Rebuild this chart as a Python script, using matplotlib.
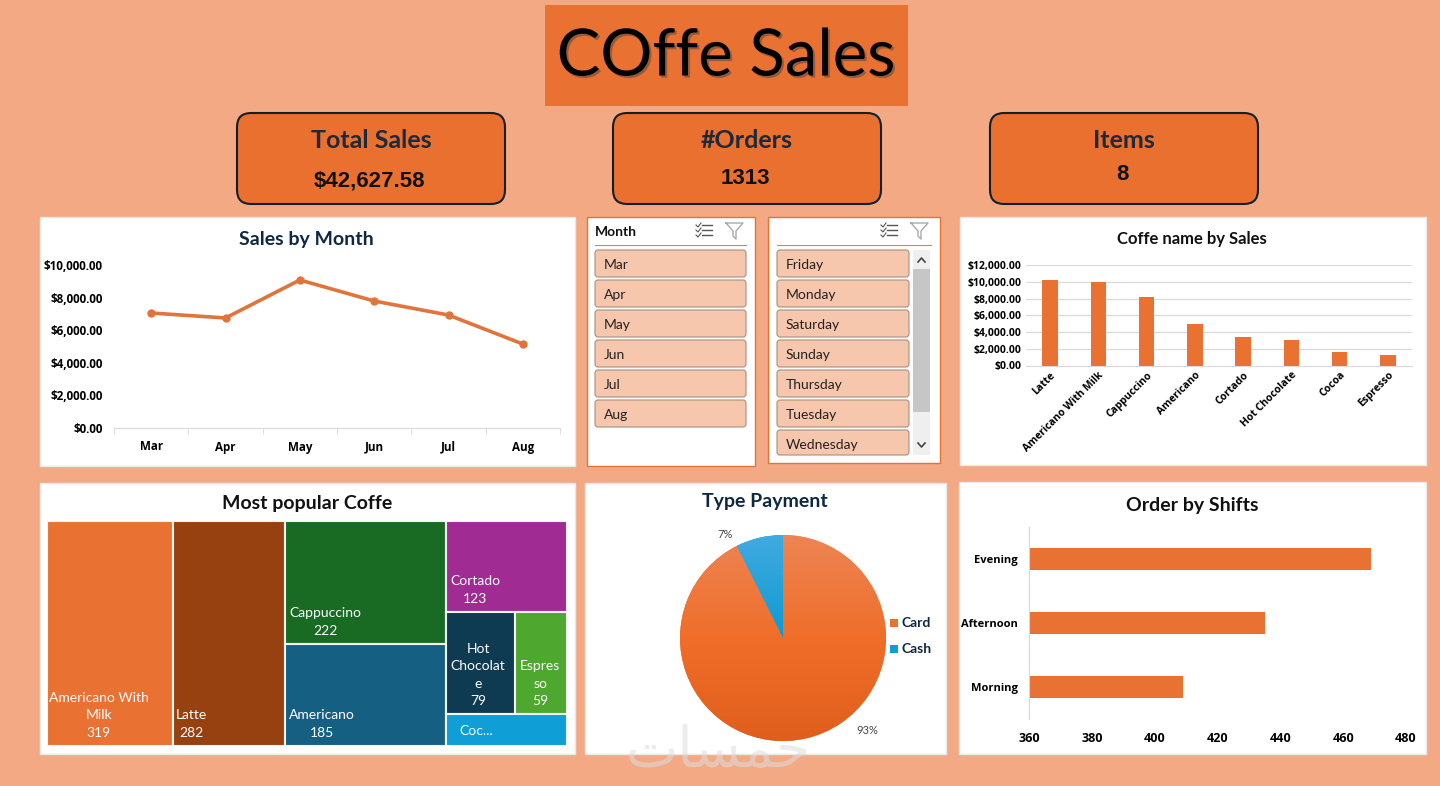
import numpy as np
import matplotlib
matplotlib.use("Agg")
import matplotlib.pyplot as plt
import matplotlib.patheffects as pe
from matplotlib.patches import Rectangle, FancyBboxPatch
from matplotlib.ticker import StrMethodFormatter

W, H = 1440, 786
BG = "#F2A984"
ORANGE = "#E97132"
NAVY = "#0E2841"
SLICER = "#F6C6AD"
HEAD = "Lato"
SMALL = "Open Sans"

months = ["Mar", "Apr", "May", "Jun", "Jul", "Aug"]
month_sales = [7055, 6750, 9080, 7790, 6930, 5150]

days = ["Friday", "Monday", "Saturday", "Sunday", "Thursday", "Tuesday", "Wednesday"]

coffee_names = ["Latte", "Americano With Milk", "Cappuccino", "Americano",
                "Cortado", "Hot Chocolate", "Cocoa", "Espresso"]
coffee_sales = [10200, 10000, 8200, 4950, 3350, 3000, 1600, 1300]

tree_labels = ["Americano With\nMilk\n319", "Latte\n282", "Cappuccino\n222", "Americano\n185",
               "Cortado\n123", "Hot\nChocolat\ne\n79", "Espres\nso\n59", "Coc..."]
tree_counts = [319, 282, 222, 185, 123, 79, 59, 44]
tree_colors = ["#E97132", "#974010", "#196B24", "#156082", "#A02B93", "#0F3B52", "#4EA72E", "#0F9ED5"]

pay_labels = ["Card", "Cash"]
pay_share = [92.6, 7.4]

shifts = ["Morning", "Afternoon", "Evening"]
shift_orders = [409, 435, 469]

kpi_titles = ["Total Sales", "#Orders", "Items"]
kpi_values = ["$42,627.58", "1313", "8"]

plt.rcParams["font.family"] = ["Lato", "DejaVu Sans"]

fig = plt.figure(figsize=(W / 100, H / 100), dpi=100, facecolor=BG)
bg = fig.add_axes([0, 0, 1, 1])
bg.set_xlim(0, W)
bg.set_ylim(H, 0)
bg.axis("off")


def sub_axes(x0, y0, x1, y1):
    # axes from pixel box, y measured from the top
    return fig.add_axes([x0 / W, 1 - y1 / H, (x1 - x0) / W, (y1 - y0) / H])


def panel(x0, y0, x1, y1, edge="#E8E8E8"):
    bg.add_patch(Rectangle((x0, y0), x1 - x0, y1 - y0, fc="white", ec=edge, lw=1))


def clean(ax):
    for s in ["top", "right", "left", "bottom"]:
        ax.spines[s].set_visible(False)
    ax.patch.set_alpha(0)


def bold_labels(labels, size):
    for lab in labels:
        lab.set_fontsize(size)
        lab.set_fontweight("bold")
        lab.set_family(SMALL)


# title and cards
bg.add_patch(Rectangle((545, 5), 363, 101, fc=ORANGE, ec="none"))
bg.text(726, 57, "COffe Sales", fontsize=47, ha="center", va="center", color="black", family=HEAD,
        path_effects=[pe.withSimplePatchShadow(offset=(1.5, -1.5), shadow_rgbFace="#444444", alpha=0.5)])

for x0, t, v, vy in zip([237, 613, 990], kpi_titles, kpi_values, [181, 179, 174]):
    bg.add_patch(FancyBboxPatch((x0 + 14, 127), 240, 63, boxstyle="round,pad=14,rounding_size=14",
                                fc="#EA7030", ec="#10202C", lw=1.5))
    bg.text(x0 + 134, 140, t, fontsize=18, fontweight="bold", ha="center", va="center", color="#1E2A38", family=HEAD)
    bg.text(x0 + 132, vy, v, fontsize=16, fontweight="bold", ha="center", va="center",
            color="#111111", family="Liberation Sans")

# panels
panel(40, 217, 575, 466)
panel(960, 217, 1426, 465)
panel(40, 483, 575, 754)
panel(585, 483, 946, 754)
panel(959, 482, 1426, 754)
panel(587, 217, 755, 466, edge=ORANGE)
panel(768, 217, 940, 463, edge=ORANGE)

# sales by month
bg.text(306, 240, "Sales by Month", fontsize=14, fontweight="bold", ha="center", va="center", color=NAVY)
ax = sub_axes(114, 265, 560, 428)
clean(ax)
ax.plot(range(6), month_sales, color="#E0743A", lw=2.6, marker="o", ms=5)
ax.set_xlim(-0.5, 5.5)
ax.set_ylim(0, 10000)
ax.set_yticks(range(0, 10001, 2000))
ax.yaxis.set_major_formatter(StrMethodFormatter("${x:,.2f}"))
ax.set_xticks(range(6), months)
ax.spines["bottom"].set_visible(True)
ax.spines["bottom"].set_color("#D9D9D9")
ax.tick_params(axis="y", length=0, pad=8)
ax.tick_params(axis="x", length=0, pad=9)
bold_labels(ax.get_xticklabels() + ax.get_yticklabels(), 8.4)
ax.set_xticks(np.arange(-0.5, 6), minor=True)
ax.tick_params(axis="x", which="minor", length=4, color="#D9D9D9")


# slicers
def slicer(x0, x1, items, rule_end):
    bg.plot([x0, rule_end], [245, 245], color="#C98A5E", lw=0.8)
    # select-all and clear-filter icons
    ix = rule_end - 50
    for k in range(3):
        bg.plot([ix + 6, ix + 16], [225 + k * 5] * 2, color="#555555", lw=1)
        bg.plot([ix, ix + 2, ix + 5], [225 + k * 5, 227 + k * 5, 223 + k * 5], color="#555555", lw=0.8)
    fx = rule_end - 20
    bg.plot([fx, fx + 17, fx + 10, fx + 10, fx + 7, fx + 7, fx], [223, 223, 231, 239, 236, 231, 223],
            color="#AAAAAA", lw=1)
    for i, name in enumerate(items):
        top = 250 + i * 30
        bottom = min(top + 27, 455)
        bg.add_patch(FancyBboxPatch((x0 + 2, top + 2), x1 - x0 - 4, bottom - top - 4,
                                    boxstyle="round,pad=2,rounding_size=3", fc=SLICER, ec="#A98E7E", lw=0.8))
        bg.text(x0 + 9, top + 15, name, fontsize=10, ha="left", va="center", color="#222222")


slicer(595, 746, months, 746)
bg.text(595, 232, "Month", fontsize=10, fontweight="bold", ha="left", va="center", color="#111111")
slicer(777, 909, days, 931)

# slicer scrollbar
bg.add_patch(Rectangle((913, 250), 17, 205, fc="#EFEFEF", ec="none"))
bg.add_patch(Rectangle((913, 269), 17, 143, fc="#C6C6C6", ec="none"))
bg.plot([918, 921.5, 925], [262, 258, 262], color="#444444", lw=1.2)
bg.plot([918, 921.5, 925], [443, 447, 443], color="#444444", lw=1.2)

# coffee by sales
bg.text(1192, 239, "Coffe name by Sales", fontsize=12, fontweight="bold", ha="center", va="center", color="#111111")
ax = sub_axes(1026, 265, 1412, 365.5)
clean(ax)
ax.bar(range(8), coffee_sales, width=0.32, color=ORANGE, zorder=2)
ax.set_xlim(-0.5, 7.5)
ax.set_ylim(0, 12000)
ax.set_yticks(range(0, 12001, 2000))
ax.yaxis.set_major_formatter(StrMethodFormatter("${x:,.2f}"))
ax.grid(axis="y", color="#D9D9D9", lw=0.8, zorder=0)
ax.set_axisbelow(True)
ax.spines["bottom"].set_visible(True)
ax.spines["bottom"].set_color("#D9D9D9")
ax.set_xticks(range(8), coffee_names, rotation=45, ha="right", rotation_mode="anchor")
ax.tick_params(axis="both", length=0, pad=3)
bold_labels(ax.get_xticklabels() + ax.get_yticklabels(), 7.5)

# treemap, slice and dice from the counts
bg.text(307, 503, "Most popular Coffe", fontsize=14, fontweight="bold", ha="center", va="center", color="#111111")
ax = sub_axes(47, 521, 567, 746)
ax.axis("off")
ax.set_ylim(1, 0)
ax.set_xlim(0, 1)
total = sum(tree_counts)
c = tree_counts
col_w = [c[0] / total, c[1] / total, (c[2] + c[3]) / total, sum(c[4:]) / total]
col_x = np.cumsum([0] + col_w)


def cell(i, x, y, w, h, tx, ty):
    ax.add_patch(Rectangle((x, y), w, h, fc=tree_colors[i], ec="#F4F4F4", lw=1.5))
    ax.text(x + tx * w, y + ty * h, tree_labels[i], color="white", fontsize=10, ha="center", va="bottom",
            linespacing=1.55, multialignment="center")


cell(0, col_x[0], 0, col_w[0], 1, 0.41, 0.967)
cell(1, col_x[1], 0, col_w[1], 1, 0.16, 0.967)
h2 = c[2] / (c[2] + c[3])
cell(2, col_x[2], 0, col_w[2], h2, 0.25, 0.945)
cell(3, col_x[2], h2, col_w[2], 1 - h2, 0.23, 0.93)
h4 = c[4] / sum(c[4:])
h5 = (c[5] + c[6]) / sum(c[4:])
h7 = c[7] / sum(c[4:])
cell(4, col_x[3], 0, col_w[3], h4, 0.24, 0.925)
w5 = c[5] / (c[5] + c[6])
cell(5, col_x[3], h4, col_w[3] * w5, h5, 0.46, 0.94)
cell(6, col_x[3] + col_w[3] * w5, h4, col_w[3] * (1 - w5), h5, 0.48, 0.94)
cell(7, col_x[3], h4 + h5, col_w[3], h7, 0.25, 0.72)

# payment pie with a vertical gradient
bg.text(765, 501, "Type Payment", fontsize=14, fontweight="bold", ha="center", va="center", color=NAVY)
ax = sub_axes(680, 535, 886, 741)
wedges, _ = ax.pie(pay_share, colors=[ORANGE, "#0F9ED5"], startangle=90, counterclock=False, radius=1)
ramp = np.linspace(0, 1, 256)
stops = [([0.93, 0.52, 0.33], [0.94, 0.43, 0.16], [0.88, 0.37, 0.11]),
         ([0.25, 0.67, 0.88], [0.06, 0.60, 0.82], [0.05, 0.56, 0.78])]
for w, (top_c, mid_c, bot_c) in zip(wedges, stops):
    rows = np.stack([np.interp(ramp, [0, 0.5, 1], [top_c[k], mid_c[k], bot_c[k]]) for k in range(3)], axis=1)
    im = ax.imshow(rows.reshape(256, 1, 3), extent=(-1, 1, -1, 1), aspect="equal", zorder=3)
    im.set_clip_path(w)
ax.set_xlim(-1, 1)
ax.set_ylim(-1, 1)
ax.axis("off")
bg.text(725, 534, "7%", fontsize=8, ha="center", va="center", color="#444444")
bg.text(867, 731, "93%", fontsize=8, ha="center", va="center", color="#444444")
for name, color, y in zip(pay_labels, [ORANGE, "#0F9ED5"], [623, 649]):
    bg.add_patch(Rectangle((890, y - 4), 8, 8, fc=color, ec="none"))
    bg.text(902, y, name, fontsize=10, fontweight="bold", ha="left", va="center", color=NAVY)

# orders by shift
bg.text(1192, 505, "Order by Shifts", fontsize=14, fontweight="bold", ha="center", va="center", color="#111111")
ax = sub_axes(1029, 527, 1406, 719)
clean(ax)
ax.barh(range(3), shift_orders, height=0.34, color=ORANGE)
ax.set_xlim(360, 480)
ax.set_ylim(-0.5, 2.5)
ax.set_xticks(range(360, 481, 20))
ax.set_yticks(range(3), shifts)
ax.spines["left"].set_visible(True)
ax.spines["left"].set_color("#D9D9D9")
ax.tick_params(axis="y", length=0, pad=8)
ax.tick_params(axis="x", length=0, pad=9)
bold_labels(ax.get_yticklabels(), 8)
bold_labels(ax.get_xticklabels(), 9)

# site watermark over the bottom edge
bg.text(718, 752, "\ufe95\ufe8e\ufeb4\ufee4\ufea7", fontsize=40, ha="center", va="center",
        color="#DDDDDD", alpha=0.55, zorder=20, family="DejaVu Sans")

fig.savefig("out.png", dpi=100, facecolor=BG)
